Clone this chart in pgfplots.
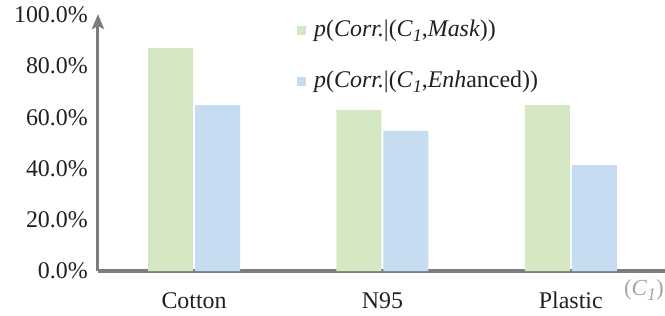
\documentclass[border=0pt]{standalone}
\usepackage{fontspec}
\setmainfont{Liberation Serif}
\usepackage{pgfplots}
\pgfplotsset{compat=1.18}
\usetikzlibrary{arrows.meta}
\definecolor{barg}{RGB}{213,232,196}
\definecolor{barb}{RGB}{197,220,241}
\definecolor{axg}{RGB}{125,125,125}
\definecolor{txt}{RGB}{35,31,32}
\definecolor{cgray}{RGB}{165,165,165}
\newcommand{\sub}[1]{\raisebox{-5bp}{\fontsize{18}{18}\selectfont\textit{#1}}}
\begin{document}
\begin{tikzpicture}
\useasboundingbox (-98bp,-45bp) rectangle (567bp,271bp);
\begin{axis}[
  at={(0,0)}, anchor=south west,
  scale only axis,
  width=567bp, height=257bp,
  xmin=-0.51, xmax=2.5,
  ymin=0, ymax=100.4,
  axis lines=left,
  axis line style={draw=axg, line width=3bp},
  y axis line style={-{Stealth[length=15bp,width=12bp,inset=3bp]}},
  x axis line style={-},
  major tick length=0pt,
  xtick={0,1,2},
  xticklabels={Cotton,N95,Plastic},
  ytick={0,20,40,60,80,100},
  yticklabels={0.0\%,20.0\%,40.0\%,60.0\%,80.0\%,100.0\%},
  tick label style={font=\fontsize{24}{28}\selectfont, text=txt},
  yticklabel style={inner sep=0pt, anchor=east, xshift=-10bp},
  xticklabel style={inner sep=0pt, anchor=north, yshift=-21bp},
  ybar=2bp,
  bar width=45bp,
  clip=false,
  legend style={draw=none, fill=none, at={(0.351,0.98)}, anchor=north west,
    inner sep=0pt, row sep=28bp, column sep=8bp,
    font=\fontsize{24}{28}\selectfont,
    nodes={inner sep=0pt, text height=17bp, text depth=6bp, text=txt}},
  legend cell align=left,
  legend image code/.code={\fill[#1] (0bp,-4.5bp) rectangle (9bp,4.5bp);},
]
\addplot[fill=barg, draw=none] coordinates {(0,87.1) (1,62.9) (2,64.8)};
\addplot[fill=barb, draw=none] coordinates {(0,64.8) (1,54.7) (2,41.4)};
\legend{{\textit{p}(\textit{Corr.}|(\textit{C}\sub{1},\textit{Mask}))},
        {\textit{p}(\textit{Corr.}|(\textit{C}\sub{1},\textit{Enh}anced))}}
\node[anchor=east, inner sep=0pt, text=cgray, font=\fontsize{23}{26}\selectfont]
  at (rel axis cs:1,0) [xshift=-1bp, yshift=-19bp] {(\textit{C}\sub{1})};
\end{axis}
\end{tikzpicture}
\end{document}
